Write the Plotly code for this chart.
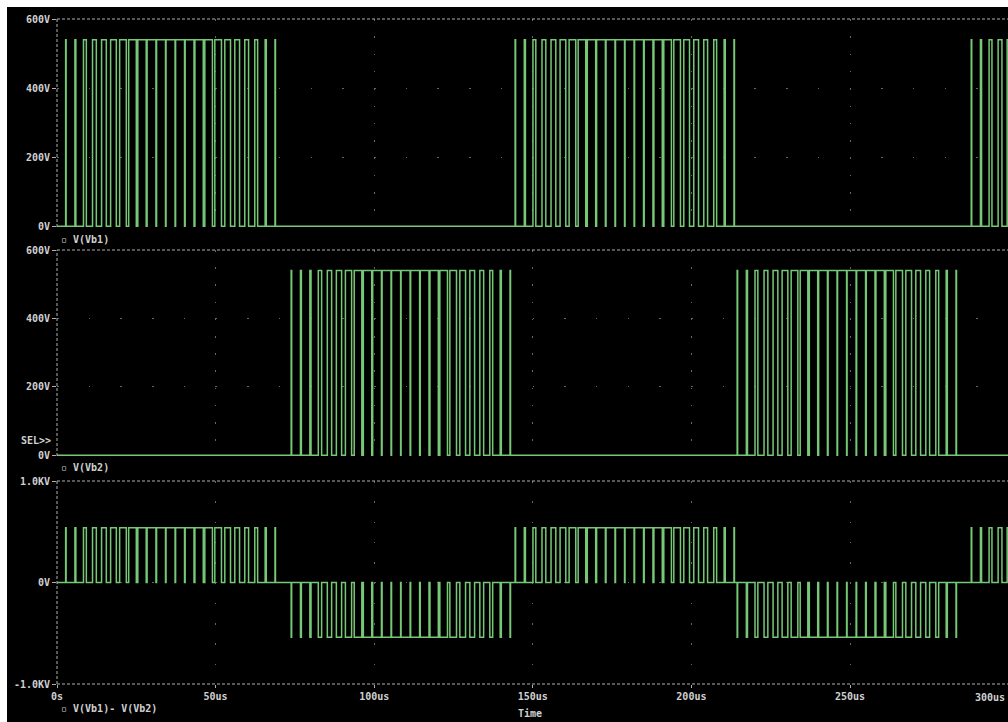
import numpy as np
import plotly.graph_objects as go

# ---------------- data (time in microseconds, voltage in volts) ----------------
carrier_period_us = 3.0
dc_bus_v = 540
t_start_us, t_end_us = 0.0, 300.0

# centre time of the first pulse of every burst
vb1_burst_first_us = [2.8, 144.5, 288.3]
vb2_burst_first_us = [73.9, 214.5]

# duty ratio of each carrier period inside a burst
vb1_duty = [
    [0.05, 0.10, 0.30, 0.40, 0.50, 0.60, 0.70, 0.80, 0.88, 0.93, 0.94, 0.95,
     0.94, 0.93, 0.88, 0.80, 0.70, 0.60, 0.50, 0.40, 0.30, 0.12, 0.05],
    [0.05, 0.12, 0.30, 0.40, 0.50, 0.60, 0.70, 0.80, 0.88, 0.92, 0.94, 0.95,
     0.95, 0.94, 0.92, 0.88, 0.80, 0.70, 0.60, 0.50, 0.40, 0.30, 0.12, 0.05],
    [0.05, 0.12, 0.30, 0.40, 0.50],
]
vb2_duty = [
    [0.05, 0.10, 0.12, 0.35, 0.45, 0.55, 0.65, 0.80, 0.88, 0.92, 0.94, 0.95,
     0.95, 0.94, 0.92, 0.88, 0.80, 0.70, 0.60, 0.50, 0.40, 0.30, 0.12, 0.05],
    [0.05, 0.12, 0.30, 0.40, 0.50, 0.60, 0.70, 0.80, 0.88, 0.92, 0.94, 0.95,
     0.95, 0.94, 0.92, 0.88, 0.80, 0.70, 0.60, 0.50, 0.40, 0.30, 0.12, 0.05],
]

x_tick_vals = [0, 50, 100, 150, 200, 250, 300]
x_tick_text = ["0s", "50us", "100us", "150us", "200us", "250us", "300us"]
v_tick_vals = [0, 200, 400, 600]
v_tick_text = ["0V", "200V", "400V", "600V"]
kv_tick_vals = [-1000, 0, 1000]
kv_tick_text = ["-1.0KV", "0V", "1.0KV"]
trace_names = ["V(Vb1)", "V(Vb2)", "V(Vb1)- V(Vb2)"]


# ---------------- waveform construction ----------------
def pulse_edges(first_list, duty_list):
    rises, falls = [], []
    for c0, duties in zip(first_list, duty_list):
        for k, d in enumerate(duties):
            centre = c0 + k * carrier_period_us
            half = d * carrier_period_us / 2
            rises.append(centre - half)
            falls.append(centre + half)
    return np.array(rises), np.array(falls)


def is_high(t, rises, falls):
    return ((t[:, None] >= rises[None, :]) & (t[:, None] < falls[None, :])).any(axis=1)


def waveform(parts):
    pts = [np.array([t_start_us, t_end_us])]
    for r, f, _ in parts:
        pts += [r, f]
    bps = np.unique(np.concatenate(pts))
    bps = bps[(bps >= t_start_us) & (bps <= t_end_us)]
    v = np.zeros_like(bps)
    for r, f, sign in parts:
        v += sign * dc_bus_v * is_high(bps, r, f)
    return bps, v


vb1_r, vb1_f = pulse_edges(vb1_burst_first_us, vb1_duty)
vb2_r, vb2_f = pulse_edges(vb2_burst_first_us, vb2_duty)

t1, v1 = waveform([(vb1_r, vb1_f, 1)])
t2, v2 = waveform([(vb2_r, vb2_f, 1)])
t3, v3 = waveform([(vb1_r, vb1_f, 1), (vb2_r, vb2_f, -1)])

# ---------------- figure ----------------
W, H = 1008, 722
ML, MR, MT, MB = 57, 0, 19, 38
PW, PH = W - ML - MR, H - MT - MB


def px_x(px):
    return (px - ML) / PW


def px_y(py):
    return (H - MB - py) / PH


GREEN = "#76c876"
TXT = "#d0d0d0"
AXC = "#b0b0b0"
GRID = "#666666"
FONT = dict(family="DejaVu Sans Mono", size=10, color=TXT, weight="bold")

fig = go.Figure()
for i, (t, v) in enumerate([(t1, v1), (t2, v2), (t3, v3)]):
    sfx = "" if i == 0 else str(i + 1)
    fig.add_trace(go.Scatter(
        x=t, y=v, mode="lines", line=dict(color=GREEN, width=1.5, shape="hv"),
        xaxis="x" + sfx, yaxis="y" + sfx, name=trace_names[i], showlegend=False,
        hoverinfo="skip"))

x_range = [0, PW / (158.6 / 50)]

doms = [
    [px_y(227), px_y(19)],
    [px_y(456), px_y(250)],
    [px_y(684), px_y(481)],
]

layout = dict(
    width=W, height=H,
    margin=dict(l=ML, r=MR, t=MT, b=MB, pad=0),
    paper_bgcolor="#000000", plot_bgcolor="#000000",
    font=FONT, showlegend=False,
)

x_dash = ["1.5px,15.8px", "1.5px,15.7px", "1.5px,18.8px"]
for i in range(3):
    sfx = "" if i == 0 else str(i + 1)
    layout["xaxis" + sfx] = dict(
        domain=[0, 1], range=x_range, anchor="y" + sfx,
        tickvals=x_tick_vals, ticktext=x_tick_text,
        showticklabels=(i == 2), ticks="outside" if i == 2 else "",
        ticklen=3, tickcolor=AXC, tickfont=FONT,
        showgrid=True, gridcolor=GRID, gridwidth=1, griddash=x_dash[i],
        zeroline=False, showline=False,
    )
    if i < 2:
        yr, tv, tt = [-2, 600], v_tick_vals, v_tick_text
    else:
        yr, tv, tt = [-1000, 1000], kv_tick_vals, kv_tick_text
    layout["yaxis" + sfx] = dict(
        domain=doms[i], range=yr, anchor="x" + sfx,
        tickvals=tv, ticktext=tt, ticks="outside", ticklen=4, tickcolor=AXC,
        tickfont=FONT, showgrid=True, gridcolor=GRID, gridwidth=1,
        griddash="1.5px,30.2px", zeroline=False, showline=False,
    )

shapes = []
for i in range(3):
    sfx = "" if i == 0 else str(i + 1)
    # dashed top border and dashed left axis of each panel
    shapes.append(dict(type="line", xref="x" + sfx + " domain", yref="y" + sfx + " domain",
                       x0=0, x1=1, y0=1, y1=1, line=dict(color=AXC, width=1, dash="3px,2px")))
    shapes.append(dict(type="line", xref="x" + sfx + " domain", yref="y" + sfx + " domain",
                       x0=0, x1=0, y0=0, y1=1, line=dict(color=AXC, width=1, dash="3px,2px")))
shapes.append(dict(type="line", xref="x3 domain", yref="y3 domain",
                   x0=0, x1=1, y0=0, y1=0, line=dict(color=AXC, width=1, dash="3px,2px")))
# light frame strips along the top and left edges of the window
shapes.append(dict(type="rect", xref="paper", yref="paper", layer="above",
                   x0=px_x(0), x1=px_x(7), y0=px_y(722), y1=px_y(0),
                   fillcolor="#ffffff", line=dict(width=0)))
shapes.append(dict(type="rect", xref="paper", yref="paper", layer="above",
                   x0=px_x(0), x1=px_x(1008), y0=px_y(7), y1=px_y(0),
                   fillcolor="#ffffff", line=dict(width=0)))
layout["shapes"] = shapes

ann = []
for name, py in zip(trace_names, [240, 467, 708]):
    ann.append(dict(text="\u25ab " + name, xref="paper", yref="paper",
                    x=px_x(59), y=px_y(py), xanchor="left", yanchor="middle",
                    showarrow=False, font=FONT))
ann.append(dict(text="SEL>>", xref="paper", yref="paper", x=px_x(53), y=px_y(441),
                xanchor="right", yanchor="middle", showarrow=False, font=FONT))
ann.append(dict(text="Time", xref="paper", yref="paper", x=px_x(530), y=px_y(713),
                xanchor="center", yanchor="middle", showarrow=False, font=FONT))
ann.append(dict(text=x_tick_text[-1], xref="paper", yref="paper", x=px_x(1007), y=px_y(697),
                xanchor="right", yanchor="middle", showarrow=False, font=FONT))
layout["annotations"] = ann

fig.update_layout(**layout)
fig.write_html("out.html")
